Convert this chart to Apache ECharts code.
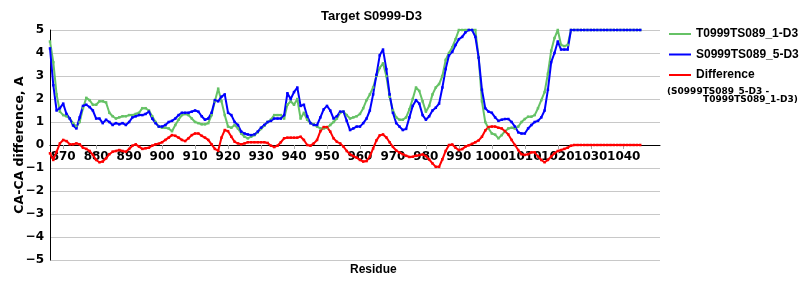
<!DOCTYPE html>
<html>
<head>
<meta charset="utf-8">
<script src="https://cdn.jsdelivr.net/npm/echarts@6/dist/echarts.min.js"></script>
<style>html,body{margin:0;padding:0;background:#fff}#c{width:800px;height:300px}</style>
</head>
<body>
<div id="c"></div>
<script>
// Residue axis: first and last category of the axis
const residueStart = 866;
const residueEnd = 1051;
const titleText = 'Target S0999-D3';
const yAxisName = 'CA-CA difference, A';
const xAxisName = 'Residue';
const seriesNames = ['T0999TS089_1-D3', 'S0999TS089_5-D3', 'Difference'];
const diffNote = ['(S0999TS089_5-D3 -', 'T0999TS089_1-D3)'];

// values for residues 866 .. 1045
const tValues = [
 4.5,3.6,2.2,1.45,1.3,1.25,1.15,0.95,0.8,1.0,
 1.6,2.05,1.95,1.75,1.75,1.9,1.9,1.85,1.4,1.25,
 1.15,1.2,1.25,1.25,1.3,1.3,1.35,1.4,1.6,1.6,
 1.5,1.25,1.0,0.8,0.75,0.75,0.72,0.6,0.87,1.1,
 1.3,1.35,1.3,1.15,1.0,0.95,0.9,0.9,0.95,1.3,
 1.9,2.45,1.9,1.3,0.8,0.75,0.87,0.72,0.5,0.36,
 0.29,0.36,0.43,0.55,0.7,0.84,1.0,1.1,1.3,1.3,
 1.3,1.15,1.75,1.9,1.75,2.0,1.15,1.4,1.1,0.95,
 0.9,0.8,0.72,0.72,0.75,0.87,1.0,1.15,1.4,1.45,
 1.3,1.15,1.2,1.25,1.35,1.6,1.95,2.2,2.5,3.0,
 3.35,3.55,3.0,2.1,1.5,1.2,1.1,1.1,1.2,1.55,
 2.0,2.5,2.35,1.9,1.45,1.7,2.2,2.5,2.65,3.0,
 3.7,4.0,4.25,4.6,5.0,5.0,5.0,5.0,5.0,5.0,
 3.8,1.9,1.0,0.72,0.5,0.45,0.29,0.43,0.6,0.72,
 0.75,0.72,0.8,1.0,1.13,1.23,1.23,1.3,1.6,1.95,
 2.3,3.1,4.1,4.65,5.0,4.35,4.3,4.35,5.0,5.0,
 5.0,5.0,5.0,5.0,5.0,5.0,5.0,5.0,5.0,5.0,
 5.0,5.0,5.0,5.0,5.0,5.0,5.0,5.0,5.0,5.0
];
const sValues = [
 4.2,2.6,1.5,1.6,1.8,1.35,1.15,0.85,0.72,1.2,
 1.7,1.75,1.65,1.5,1.15,1.15,0.95,1.1,1.0,0.87,
 0.95,0.9,0.95,0.87,1.0,1.2,1.25,1.3,1.3,1.35,
 1.45,1.15,0.95,0.8,0.8,0.87,1.0,1.05,1.15,1.3,
 1.4,1.4,1.4,1.45,1.5,1.45,1.25,1.1,1.15,1.4,
 1.95,1.9,2.1,2.2,1.4,1.3,1.0,0.87,0.58,0.5,
 0.46,0.43,0.46,0.58,0.75,0.87,1.0,1.05,1.15,1.15,
 1.15,1.3,2.25,2.0,2.3,2.5,1.7,1.75,1.25,0.95,
 0.87,0.87,1.2,1.55,1.7,1.5,1.15,1.25,1.45,1.45,
 1.05,0.65,0.72,0.8,0.8,0.95,1.15,1.5,2.2,3.05,
 3.9,4.15,3.3,2.2,1.4,0.95,0.8,0.65,0.7,1.2,
 1.7,1.95,1.8,1.3,1.1,1.25,1.5,1.62,1.8,2.5,
 3.3,3.9,4.05,4.35,4.6,4.7,4.9,5.0,5.0,4.7,
 3.8,2.4,1.6,1.45,1.4,1.2,1.05,1.1,1.13,1.13,
 1.0,0.8,0.55,0.5,0.5,0.72,0.87,1.0,1.05,1.2,
 1.5,2.4,3.6,4.0,4.5,4.15,4.15,4.15,5.0,5.0,
 5.0,5.0,5.0,5.0,5.0,5.0,5.0,5.0,5.0,5.0,
 5.0,5.0,5.0,5.0,5.0,5.0,5.0,5.0,5.0,5.0
];
const diffValues = [
 -0.36,-0.65,-0.3,0.07,0.22,0.17,0.03,0.03,0.07,0.03,
 -0.12,-0.17,-0.26,-0.43,-0.65,-0.75,-0.72,-0.58,-0.4,-0.29,
 -0.26,-0.22,-0.26,-0.29,-0.17,-0.03,0.03,-0.07,-0.17,-0.14,
 -0.12,-0.03,0.03,0.06,0.12,0.22,0.32,0.43,0.4,0.32,
 0.22,0.17,0.29,0.43,0.5,0.5,0.4,0.32,0.22,0.03,
 -0.17,-0.25,0.32,0.65,0.6,0.36,0.14,0.07,0.03,0.07,
 0.12,0.12,0.12,0.12,0.12,0.12,0.09,-0.03,-0.09,-0.03,
 0.12,0.29,0.32,0.32,0.32,0.32,0.36,0.22,0.0,-0.03,
 0.07,0.22,0.6,0.78,0.78,0.58,0.29,0.14,0.07,-0.07,
 -0.26,-0.4,-0.48,-0.55,-0.65,-0.72,-0.7,-0.5,-0.15,0.2,
 0.42,0.46,0.33,0.12,-0.08,-0.24,-0.33,-0.4,-0.47,-0.52,
 -0.51,-0.47,-0.44,-0.41,-0.48,-0.63,-0.8,-0.95,-0.95,-0.62,
 -0.26,0.0,0.02,-0.12,-0.22,-0.18,-0.07,-0.01,0.05,0.12,
 0.2,0.36,0.63,0.78,0.8,0.8,0.75,0.72,0.6,0.46,
 0.22,0.0,-0.22,-0.4,-0.43,-0.4,-0.32,-0.32,-0.5,-0.65,
 -0.75,-0.65,-0.5,-0.36,-0.26,-0.22,-0.17,-0.12,-0.03,0.0,
 0.0,0.0,0.0,0.0,0.0,0.0,0.0,0.0,0.0,0.0,
 0.0,0.0,0.0,0.0,0.0,0.0,0.0,0.0,0.0,0.0
];

const residues = [];
for (let r = residueStart; r <= residueEnd; r++) residues.push(String(r));

const colors = ['#66C266', '#0000FF', '#FF0000'];
const chart = echarts.init(document.getElementById('c'));
const tickFont = 'DejaVu Sans';
const mkSeries = (name, data, color) => ({
  name, type: 'line', data, color,
  symbol: 'rect', symbolSize: 2.5, showSymbol: true, showAllSymbol: true,
  lineStyle: { width: 2, color }, itemStyle: { color },
  emphasis: { disabled: true }, animation: false
});
chart.setOption({
  animation: false,
  title: {
    text: titleText, left: 316, top: 5,
    textStyle: { fontFamily: 'Liberation Sans', fontWeight: 'bold', fontSize: 13, color: '#000' }
  },
  legend: {
    orient: 'vertical', left: 669, top: 28, itemGap: 8.5, padding: 0,
    itemWidth: 22, itemHeight: 2, icon: 'rect',
    textStyle: { fontFamily: 'Liberation Sans', fontWeight: 'bold', fontSize: 12, color: '#000' },
    data: seriesNames.map(n => ({ name: n }))
  },
  graphic: [
    { type: 'text', left: 667, top: 87, style: { text: diffNote[0], font: 'bold 9px "DejaVu Sans"', fill: '#000' } },
    { type: 'text', left: 703, top: 95, style: { text: diffNote[1], font: 'bold 9px "DejaVu Sans"', fill: '#000' } },
    { type: 'text', left: 350, top: 264, style: { text: xAxisName, font: 'bold 12px "Liberation Sans"', fill: '#000' } }
  ],
  grid: { left: 50, right: 140, top: 30, bottom: 40, outerBoundsMode: 'none', containLabel: false },
  xAxis: {
    type: 'category', data: residues, boundaryGap: false,
    position: 'bottom', offset: -115,
    axisLine: { onZero: false, lineStyle: { color: '#000', width: 1 } },
    axisTick: { interval: (i, v) => Number(v) % 10 === 0, length: 4, lineStyle: { color: '#aaa' } },
    axisLabel: { interval: (i, v) => Number(v) % 10 === 0, fontFamily: tickFont, fontWeight: 'bold', fontSize: 12, color: '#000', margin: 6 },
    splitLine: { show: false }
  },
  yAxis: {
    type: 'value', min: -5, max: 5, interval: 1,
    name: yAxisName, nameLocation: 'middle', nameGap: 24, nameMoveOverlap: false,
    nameTextStyle: { fontFamily: tickFont, fontWeight: 'bold', fontSize: 12.5, color: '#000' },
    axisLine: { show: true, lineStyle: { color: '#000', width: 1 } },
    axisTick: { show: false },
    axisLabel: { fontFamily: tickFont, fontWeight: 'bold', fontSize: 12, color: '#000', margin: 6,
      formatter: v => String(v).replace('-', '\u2212') },
    splitLine: { lineStyle: { color: '#c8c8c8', width: 1 } }
  },
  series: [
    mkSeries(seriesNames[0], tValues, colors[0]),
    mkSeries(seriesNames[1], sValues, colors[1]),
    mkSeries(seriesNames[2], diffValues, colors[2])
  ]
});
</script>
</body>
</html>
